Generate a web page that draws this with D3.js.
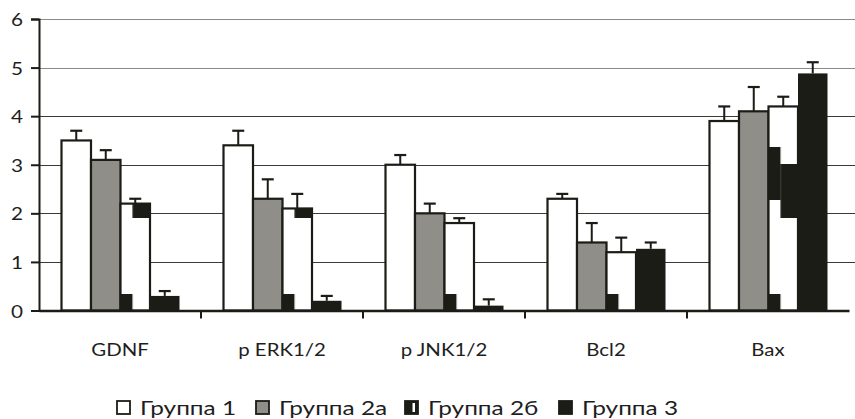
<!DOCTYPE html>
<html>
<head>
<meta charset="utf-8">
<script src="https://cdnjs.cloudflare.com/ajax/libs/d3/7.8.5/d3.min.js"></script>
<style>
  body { margin: 0; background: #fff; }
  svg { display: block; font-family: Lato, "Open Sans", sans-serif; }
</style>
</head>
<body>
<svg id="chart" width="855" height="419"></svg>
<script>
// data
var categories = ["GDNF", "p ERK1/2", "p JNK1/2", "Bcl2", "Bax"];
var groups = ["Группа 1", "Группа 2а", "Группа 2б", "Группа 3"];
var group1 = [3.5, 3.4, 3.0, 2.3, 3.9];
var group1Err = [0.2, 0.3, 0.2, 0.1, 0.3];
var group2a = [3.1, 2.3, 2.0, 1.4, 4.1];
var group2aErr = [0.2, 0.4, 0.2, 0.4, 0.5];
var group2b = [2.2, 2.1, 1.8, 1.2, 4.2];
var group2bErr = [0.1, 0.3, 0.1, 0.3, 0.2];
var group3 = [0.3, 0.2, 0.1, 1.27, 4.88];
var group3Err = [0.1, 0.1, 0.13, 0.13, 0.23];
var yTicks = [0, 1, 2, 3, 4, 5, 6];

var values = [group1, group2a, group2b, group3];
var errors = [group1Err, group2aErr, group2bErr, group3Err];

var dark = "#1b1c16";
var textColor = "#1e1e1e";
var fills = ["#ffffff", "#8f8e89", null, dark];

var svg = d3.select("#chart");

var plotLeft = 39, plotRight = 849, plotTop = 19, plotBottom = 310.5;

var y = d3.scaleLinear().domain([0, 6]).range([plotBottom, plotTop]);
var x0 = d3.scaleBand().domain(categories).range([plotLeft, plotRight]);
var x1 = d3.scaleBand().domain(d3.range(groups.length))
    .range([22.5, x0.bandwidth() - 21.5]);
var bw = x1.bandwidth();

// the source picture was stretched sideways, so text is too
function stretched(sel, x, yy, sx) {
    sel.attr("x", null).attr("y", null).attr("dy", null)
        .attr("transform", "translate(" + x + "," + yy + ") scale(" + sx + ",1)");
}

var defs = svg.append("defs");

// gridlines
svg.append("g").selectAll("line")
    .data(yTicks.filter(function (d) { return d > 0; }))
    .enter().append("line")
    .attr("x1", plotLeft).attr("x2", plotRight + 6)
    .attr("y1", function (d) { return Math.round(y(d)) + 0.5; })
    .attr("y2", function (d) { return Math.round(y(d)) + 0.5; })
    .attr("stroke", function (d) { return d >= 5 ? "#8a8a8a" : "#3a3a3a"; })
    .attr("stroke-width", 1.2);

// pattern for group 2b, one per bar, blocks anchored to the chart
function patternId(i) { return "pat2b_" + i; }
categories.forEach(function (c, i) {
    var bx = x0(c) + x1(2);
    var p = defs.append("pattern")
        .attr("id", patternId(i))
        .attr("patternUnits", "userSpaceOnUse")
        .attr("x", bx).attr("y", 0)
        .attr("width", bw).attr("height", 147);
    p.append("rect").attr("width", bw).attr("height", 147).attr("fill", "#fff");
    p.append("rect").attr("x", 0).attr("y", 0).attr("width", 12).attr("height", 53).attr("fill", dark);
    p.append("rect").attr("x", 12).attr("y", 17).attr("width", bw - 12).attr("height", 54).attr("fill", dark);
});

// bars
groups.forEach(function (g, gi) {
    var layer = svg.append("g");
    layer.selectAll("rect")
        .data(categories)
        .enter().append("rect")
        .attr("x", function (c) { return x0(c) + x1(gi); })
        .attr("y", function (c, i) { return y(values[gi][i]); })
        .attr("width", bw)
        .attr("height", function (c, i) { return y(0) - y(values[gi][i]); })
        .attr("fill", function (c, i) { return gi === 2 ? "url(#" + patternId(i) + ")" : fills[gi]; })
        .attr("stroke", dark)
        .attr("stroke-width", gi === 3 ? 0 : 2.2);

    // error bars
    var err = layer.selectAll("g.err")
        .data(categories)
        .enter().append("g").attr("class", "err");
    err.append("line")
        .attr("x1", function (c) { return x0(c) + x1(gi) + bw / 2; })
        .attr("x2", function (c) { return x0(c) + x1(gi) + bw / 2; })
        .attr("y1", function (c, i) { return y(values[gi][i]); })
        .attr("y2", function (c, i) { return y(values[gi][i] + errors[gi][i]); })
        .attr("stroke", dark).attr("stroke-width", 2);
    err.append("line")
        .attr("x1", function (c) { return x0(c) + x1(gi) + bw / 2 - 6; })
        .attr("x2", function (c) { return x0(c) + x1(gi) + bw / 2 + 6; })
        .attr("y1", function (c, i) { return y(values[gi][i] + errors[gi][i]); })
        .attr("y2", function (c, i) { return y(values[gi][i] + errors[gi][i]); })
        .attr("stroke", dark).attr("stroke-width", 2.2);
});

// y axis
var yAxis = svg.append("g")
    .attr("transform", "translate(" + plotLeft + ",0)")
    .call(d3.axisLeft(y).tickValues(yTicks).tickSize(8).tickFormat(d3.format("d")));
yAxis.attr("font-family", null);
yAxis.select(".domain").attr("stroke", dark).attr("stroke-width", 2);
yAxis.selectAll(".tick line").attr("stroke", dark).attr("stroke-width", 2);
yAxis.selectAll(".tick text")
    .attr("font-size", 18).attr("fill", textColor)
    .each(function () { stretched(d3.select(this), -16, 6.5, 1.15); });

// x axis
var xAxis = svg.append("g")
    .attr("transform", "translate(0," + plotBottom + ")")
    .call(d3.axisBottom(x0).tickSize(0));
xAxis.attr("font-family", null);
xAxis.select(".domain").attr("stroke", dark).attr("stroke-width", 2.4);
xAxis.selectAll(".tick text")
    .attr("font-size", 17).attr("fill", textColor)
    .each(function () { stretched(d3.select(this), 0, 45, 1.2); });
svg.append("g").selectAll("line")
    .data(categories.slice(1))
    .enter().append("line")
    .attr("x1", function (c) { return x0(c); })
    .attr("x2", function (c) { return x0(c); })
    .attr("y1", plotBottom).attr("y2", plotBottom + 8)
    .attr("stroke", dark).attr("stroke-width", 2);

// legend
var legendX = [116, 255, 404, 558];
var legend = svg.append("g");
groups.forEach(function (g, gi) {
    var lx = legendX[gi], ly = 400;
    var sq = legend.append("g");
    sq.append("rect")
        .attr("x", lx + 1).attr("y", ly + 1)
        .attr("width", 13).attr("height", 13)
        .attr("fill", gi === 2 ? dark : fills[gi])
        .attr("stroke", dark).attr("stroke-width", 1.8);
    if (gi === 2) {
        sq.append("rect").attr("x", lx + 8.5).attr("y", ly + 3)
            .attr("width", 2.5).attr("height", 9).attr("fill", "#fff");
    }
    legend.append("text")
        .attr("font-size", 19.5).attr("fill", textColor)
        .text(g)
        .call(stretched, lx + 24, ly + 14.5, 1.25);
});
</script>
</body>
</html>
